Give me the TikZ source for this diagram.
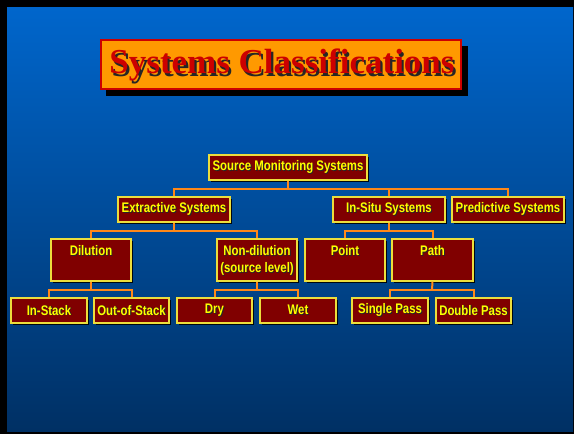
\documentclass[tikz,border=0pt]{standalone}
\usepackage{fontspec}
\setmainfont{Liberation Serif}
\newfontfamily\boxfont[FakeStretch=0.82]{Liberation Sans}
\usetikzlibrary{shadows}

\definecolor{bgtop}{RGB}{0,102,204}
\definecolor{bgbot}{RGB}{0,48,100}
\definecolor{boxred}{RGB}{128,0,0}
\definecolor{boxedge}{RGB}{236,222,60}
\definecolor{boxtxt}{RGB}{255,255,0}
\definecolor{wire}{RGB}{255,136,24}
\definecolor{titlefill}{RGB}{255,153,0}
\definecolor{titleedge}{RGB}{204,0,0}

% text with a dark shadow set behind it
\newcommand\shadowed[2][0.9pt]{\makebox[0pt][l]{\kern#1\raisebox{-#1}{\color{black!85}#2}}#2}

\tikzset{
  wirestyle/.style={draw=wire, line width=2pt},
  sysbox/.style={draw=boxedge, line width=1.2pt, fill=boxred,
    inner sep=0pt, minimum height=25pt,
    drop shadow={shadow xshift=1.8pt, shadow yshift=-1.8pt, fill=black, opacity=0.9}},
  tallbox/.style={sysbox, minimum height=42pt},
  boxtext/.style={text=boxtxt, font=\boxfont\bfseries\fontsize{13.9}{17}\selectfont, inner sep=0pt},
}

\begin{document}
\begin{tikzpicture}[x=1pt, y=-1pt]
  % frame and background
  \fill[black] (0,0) rectangle (574,434);
  \shade[top color=bgtop, bottom color=bgbot] (7,7) rectangle (573,431);
  \useasboundingbox (0,0) rectangle (574,434);

  % title panel with its shadow
  \fill[black] (106,46) rectangle (468,96);
  \node[draw=titleedge, line width=2.2pt, fill=titlefill, minimum width=360pt, minimum height=49pt, inner sep=0pt] (title) at (281,64.5) {};
  \node[text=titleedge, font=\bfseries\fontsize{35}{40}\selectfont, inner sep=0pt] (titletext) at (282,66.5) {\shadowed[2.2pt]{Systems Classifications}};

  % junction points of the tree
  \coordinate (j0) at (288,189);
  \coordinate (j1) at (174,230.5);
  \coordinate (j2) at (389,230.5);
  \coordinate (j3) at (91,290);
  \coordinate (j4) at (257,290);
  \coordinate (j5) at (432,290);

  % boxes
  \node[sysbox, minimum width=158pt] (src) at (288,167.5) {};
  \node[sysbox, minimum width=112pt] (ext) at (174,209.5) {};
  \node[sysbox, minimum width=112pt] (ins) at (389,209.5) {};
  \node[sysbox, minimum width=112pt] (pred) at (508,209.5) {};
  \node[tallbox, minimum width=80pt] (dil) at (91,260) {};
  \node[tallbox, minimum width=80pt] (ndil) at (257,260) {};
  \node[tallbox, minimum width=80pt] (pnt) at (345,260) {};
  \node[tallbox, minimum width=81pt] (pth) at (432.5,260) {};
  \node[sysbox, minimum width=76pt] (stk) at (49,310.5) {};
  \node[sysbox, minimum width=75pt] (ostk) at (131.5,310.5) {};
  \node[sysbox, minimum width=75pt] (dry) at (214.5,310.5) {};
  \node[sysbox, minimum width=76pt] (wet) at (298,310.5) {};
  \node[sysbox, minimum width=76pt] (spass) at (390,310.5) {};
  \node[sysbox, minimum width=75pt] (dpass) at (473.5,310.5) {};

  % tree wiring
  \draw[wirestyle] (src.south) -- (j0);
  \draw[wirestyle] (ext.north) |- (j0) -| (pred.north);
  \draw[wirestyle] (j0) -| (ins.north);
  \draw[wirestyle] (ext.south) -- (j1);
  \draw[wirestyle] (dil.north) |- (j1) -| (ndil.north);
  \draw[wirestyle] (ins.south) -- (j2);
  \draw[wirestyle] (pnt.north) |- (j2) -| (pth.north);
  \draw[wirestyle] (dil.south) -- (j3);
  \draw[wirestyle] (stk.north) |- (j3) -| (ostk.north);
  \draw[wirestyle] (ndil.south) -- (j4);
  \draw[wirestyle] (dry.north) |- (j4) -| (wet.north);
  \draw[wirestyle] (pth.south) -- (j5);
  \draw[wirestyle] (spass.north) |- (j5) -| (dpass.north);

  % labels
  \node[boxtext] (srct) at (src) {\shadowed{Source Monitoring Systems}};
  \node[boxtext] (extt) at (ext) {\shadowed{Extractive Systems}};
  \node[boxtext] (inst) at (ins) {\shadowed{In-Situ Systems}};
  \node[boxtext] (predt) at (pred) {\shadowed{Predictive Systems}};
  \node[boxtext] (dilt) at (91,251) {\shadowed{Dilution}};
  \node[boxtext] (ndilt) at (257,251) {\shadowed{Non-dilution}};
  \node[boxtext] (ndilt2) at (257,269) {\shadowed{(source level)}};
  \node[boxtext] (pntt) at (345,251) {\shadowed{Point}};
  \node[boxtext] (ptht) at (432.5,251) {\shadowed{Path}};
  \node[boxtext] (stkt) at (stk) {\shadowed{In-Stack}};
  \node[boxtext] (ostkt) at (ostk) {\shadowed{Out-of-Stack}};
  \node[boxtext] (dryt) at (dry) {\shadowed{Dry}};
  \node[boxtext] (wett) at (wet) {\shadowed{Wet}};
  \node[boxtext] (spasst) at (spass) {\shadowed{Single Pass}};
  \node[boxtext] (dpasst) at (dpass) {\shadowed{Double Pass}};
\end{tikzpicture}
\end{document}
